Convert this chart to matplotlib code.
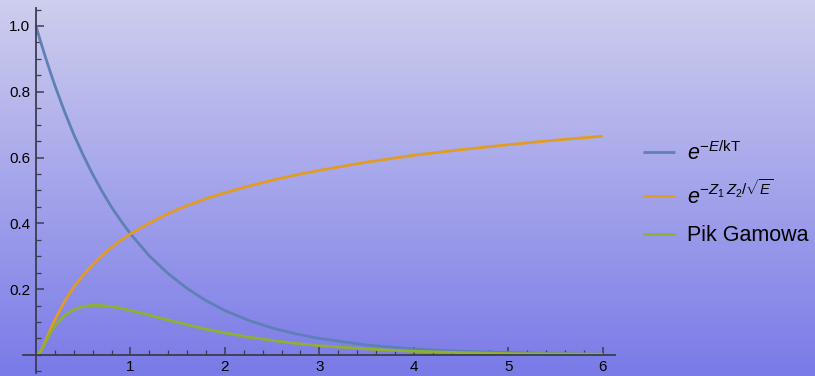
import numpy as np
import matplotlib.pyplot as plt
from matplotlib.colors import LinearSegmentedColormap

plt.rcParams['font.family'] = ['Liberation Sans', 'DejaVu Sans']
plt.rcParams['mathtext.fontset'] = 'custom'
plt.rcParams['mathtext.rm'] = 'Liberation Sans'
plt.rcParams['mathtext.it'] = 'Liberation Sans:italic'

# energy samples and the three curves
E = [0, 0.02, 0.05, 0.1, 0.15, 0.2, 0.3, 0.4, 0.5, 0.6, 0.7, 0.8, 0.9, 1.0,
     1.2, 1.4, 1.6, 1.8, 2.0, 2.25, 2.5, 2.75, 3.0, 3.5, 4.0, 4.5, 5.0, 5.5, 6.0]
boltzmann = [1.0, 0.980, 0.951, 0.905, 0.861, 0.819, 0.741, 0.670, 0.607, 0.549,
             0.497, 0.449, 0.407, 0.368, 0.301, 0.247, 0.202, 0.165, 0.135, 0.105,
             0.082, 0.064, 0.050, 0.030, 0.018, 0.011, 0.007, 0.004, 0.002]
tunnel = [0.0, 0.001, 0.011, 0.042, 0.076, 0.107, 0.161, 0.206, 0.243, 0.275,
          0.303, 0.327, 0.349, 0.368, 0.401, 0.430, 0.454, 0.475, 0.493, 0.513,
          0.531, 0.547, 0.561, 0.586, 0.607, 0.624, 0.639, 0.653, 0.665]
gamow = [0.0, 0.001, 0.011, 0.038, 0.065, 0.088, 0.119, 0.138, 0.147, 0.151,
         0.150, 0.147, 0.142, 0.135, 0.121, 0.106, 0.092, 0.078, 0.067, 0.054,
         0.044, 0.035, 0.028, 0.018, 0.011, 0.007, 0.004, 0.003, 0.002]

labels = [r'$e^{-E/\mathrm{kT}}$', r'$e^{-Z_1\,Z_2/\sqrt{E}}$', 'Pik Gamowa']
colors = ['#5E81B5', '#E19C24', '#8FB032']

fig = plt.figure(figsize=(8.15, 3.76), dpi=100)

# vertical background gradient
bg = fig.add_axes([0, 0, 1, 1], zorder=-10)
cmap = LinearSegmentedColormap.from_list('bg', ['#7A7AE8', '#CECEEE'])
bg.imshow(np.linspace(0, 1, 256).reshape(-1, 1)[::-1], cmap=cmap, aspect='auto',
          extent=[0, 1, 0, 1])
bg.axis('off')

ax = fig.add_axes([0.0282, 0.008, 0.7264, 0.971])
ax.patch.set_alpha(0)
for y, c, lab in zip([boltzmann, tunnel, gamow], colors, labels):
    ax.plot(E, y, color=c, lw=2, label=lab, solid_capstyle='butt')

ax.set_xlim(-0.138, 6.13)
ax.set_ylim(-0.055, 1.055)
ax.spines['left'].set_position(('data', 0))
ax.spines['bottom'].set_position(('data', 0))
ax.spines['top'].set_visible(False)
ax.spines['right'].set_visible(False)
for s in ['left', 'bottom']:
    ax.spines[s].set_color('#3C3C50')
    ax.spines[s].set_linewidth(1.3)

ax.set_xticks([1, 2, 3, 4, 5, 6])
ax.set_xticks(np.arange(0.2, 6.01, 0.2), minor=True)
ax.set_yticks([0.2, 0.4, 0.6, 0.8, 1.0])
ax.set_yticks(np.arange(-0.05, 1.06, 0.05), minor=True)
ax.set_yticklabels(['0.2', '0.4', '0.6', '0.8', '1.0'])
ax.tick_params(axis='both', which='both', direction='in', color='#3C3C50', labelsize=11)
ax.tick_params(which='major', length=6, width=1.1)
ax.tick_params(which='minor', length=3.5, width=0.9)
ax.tick_params(axis='x', pad=3.5)
ax.tick_params(axis='y', pad=4)

fig.legend(loc='center left', bbox_to_anchor=(643 / 815, 0.485), frameon=False,
           borderpad=0, borderaxespad=0, fontsize=15.5, handlelength=1.5,
           handletextpad=0.55, labelspacing=0.75)

fig.savefig('out.png', dpi=100)
